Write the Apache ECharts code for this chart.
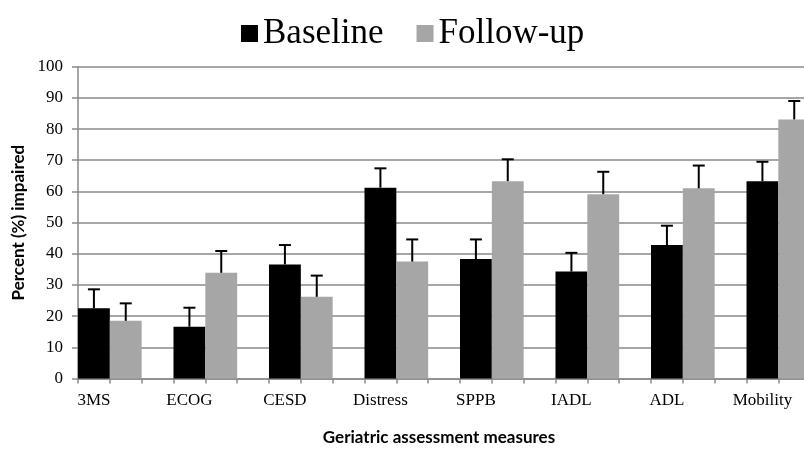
<!DOCTYPE html>
<html>
<head>
<meta charset="utf-8">
<script src="https://cdn.jsdelivr.net/npm/echarts@6/dist/echarts.min.js"></script>
<style>
html,body{margin:0;padding:0;background:#fff;overflow:hidden;width:804px;height:453px;}
#chart{width:842px;height:453px;}
</style>
</head>
<body>
<div id="chart"></div>
<script>
var categories = ['3MS', 'ECOG', 'CESD', 'Distress', 'SPPB', 'IADL', 'ADL', 'Mobility'];
var baseline = [22.5, 16.6, 36.6, 61.2, 38.3, 34.3, 42.8, 63.3];
var baselineErrTop = [28.6, 22.7, 42.8, 67.4, 44.6, 40.3, 49.0, 69.5];
var followup = [18.5, 33.9, 26.2, 37.5, 63.3, 59.1, 61.0, 83.1];
var followupErrTop = [24.1, 40.9, 33.0, 44.6, 70.3, 66.3, 68.3, 89.0];
var yTicks = [0, 10, 20, 30, 40, 50, 60, 70, 80, 90, 100];

// Each measure occupies three slots on the axis: baseline, follow-up, blank.
var slots = [];
var baseSlots = [];
var followSlots = [];
var errData = [];
categories.forEach(function (c, i) {
  slots.push(c, '', '');
  baseSlots.push(baseline[i], '-', '-');
  followSlots.push('-', followup[i], '-');
  errData.push([3 * i, baseline[i], baselineErrTop[i]]);
  errData.push([3 * i + 1, followup[i], followupErrTop[i]]);
});
var slotIds = slots.map(function (s, i) { return String(i); });

var serif = '"Liberation Serif", "Times New Roman", serif';
var sans = 'Lato, "Open Sans", sans-serif';

var chart = echarts.init(document.getElementById('chart'), null, {renderer: 'canvas'});
chart.setOption({
  animation: false,
  backgroundColor: '#ffffff',
  legend: {
    left: 236,
    top: 11,
    itemWidth: 17,
    itemHeight: 17,
    itemGap: 33,
    icon: 'rect',
    textStyle: {fontFamily: serif, fontSize: 35, color: '#000'},
    data: ['Baseline', 'Follow-up']
  },
  grid: {left: 78, top: 66.7, right: 0, height: 311.8, containLabel: false},
  xAxis: {
    type: 'category',
    data: slotIds,
    boundaryGap: true,
    name: 'Geriatric assessment measures',
    nameLocation: 'middle',
    nameGap: 51,
    nameTextStyle: {fontFamily: sans, fontWeight: 'bold', fontSize: 17, color: '#000', padding: [0, 42, 0, 0]},
    axisLine: {show: true, lineStyle: {color: '#8a8a8a', width: 1.5}},
    axisTick: {show: true, interval: 0, length: 5, lineStyle: {color: '#8a8a8a', width: 1.5}},
    axisLabel: {
      interval: 0,
      margin: 14,
      fontFamily: serif,
      fontSize: 17,
      color: '#000',
      formatter: function (v, i) { return slots[i]; }
    }
  },
  yAxis: {
    type: 'value',
    min: 0,
    max: 100,
    interval: 10,
    name: 'Percent (%) impaired',
    nameLocation: 'middle',
    nameGap: 49,
    nameTextStyle: {fontFamily: sans, fontWeight: 'bold', fontSize: 17, color: '#000'},
    axisLine: {show: true, lineStyle: {color: '#8a8a8a', width: 1.5}},
    axisTick: {show: true, length: 6, lineStyle: {color: '#8a8a8a', width: 1.5}},
    axisLabel: {
      margin: 15,
      fontFamily: serif,
      fontSize: 17,
      color: '#000',
      formatter: function (v) { return yTicks.indexOf(v) >= 0 ? String(v) : ''; }
    },
    splitLine: {show: true, lineStyle: {color: '#8a8a8a', width: 1.5}}
  },
  series: [
    {
      name: 'Baseline',
      type: 'bar',
      data: baseSlots,
      barGap: '-100%',
      barCategoryGap: '0%',
      itemStyle: {color: '#000000'}
    },
    {
      name: 'Follow-up',
      type: 'bar',
      data: followSlots,
      barGap: '-100%',
      barCategoryGap: '0%',
      itemStyle: {color: '#a6a6a6'}
    },
    {
      name: 'err',
      type: 'custom',
      data: errData,
      z: 5,
      renderItem: function (params, api) {
        var x = api.value(0);
        var base = api.coord([x, api.value(1)]);
        var top = api.coord([x, api.value(2)]);
        var half = 6;
        return {
          type: 'group',
          children: [
            {type: 'line', shape: {x1: base[0], y1: base[1], x2: top[0], y2: top[1]},
             style: {stroke: '#000', lineWidth: 2}},
            {type: 'line', shape: {x1: top[0] - half, y1: top[1], x2: top[0] + half, y2: top[1]},
             style: {stroke: '#000', lineWidth: 2}}
          ]
        };
      }
    }
  ]
});
</script>
</body>
</html>
